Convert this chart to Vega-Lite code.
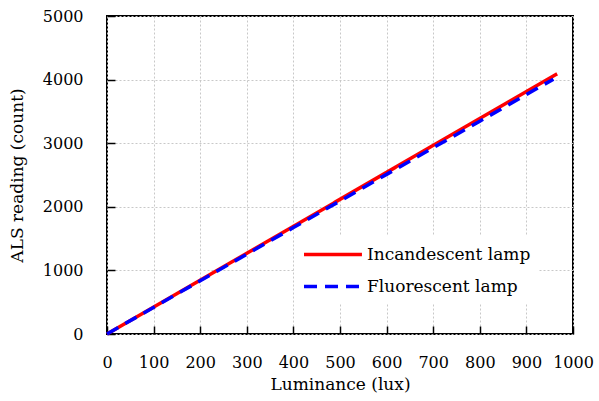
{
  "$schema": "https://vega.github.io/schema/vega-lite/v6.json",
  "width": 466,
  "height": 318,
  "autosize": "none",
  "padding": {"left": 107, "top": 16, "right": 26, "bottom": 67},
  "background": "white",
  "data": {
    "values": [
      {"lux": 0, "count": 0, "lamp": "Incandescent lamp"},
      {"lux": 200, "count": 847, "lamp": "Incandescent lamp"},
      {"lux": 400, "count": 1694, "lamp": "Incandescent lamp"},
      {"lux": 600, "count": 2541, "lamp": "Incandescent lamp"},
      {"lux": 800, "count": 3388, "lamp": "Incandescent lamp"},
      {"lux": 966, "count": 4090, "lamp": "Incandescent lamp"},
      {"lux": 0, "count": 0, "lamp": "Fluorescent lamp"},
      {"lux": 200, "count": 837, "lamp": "Fluorescent lamp"},
      {"lux": 400, "count": 1673, "lamp": "Fluorescent lamp"},
      {"lux": 600, "count": 2510, "lamp": "Fluorescent lamp"},
      {"lux": 800, "count": 3346, "lamp": "Fluorescent lamp"},
      {"lux": 958, "count": 4007, "lamp": "Fluorescent lamp"}
    ]
  },
  "mark": {"type": "line", "strokeWidth": 3.5, "strokeCap": "butt"},
  "encoding": {
    "x": {
      "field": "lux", "type": "quantitative",
      "scale": {"domain": [0, 1000], "nice": false},
      "axis": {"values": [0,100,200,300,400,500,600,700,800,900,1000], "format": "d", "labelOverlap": false, "labelFlush": false, "title": "Luminance (lux)", "titleFontSize": 17, "titlePadding": 6, "labelPadding": 28}
    },
    "y": {
      "field": "count", "type": "quantitative",
      "scale": {"domain": [0, 5000], "nice": false},
      "axis": {"values": [0,1000,2000,3000,4000,5000], "format": "d", "labelOverlap": false, "labelFlush": false, "title": "ALS reading (count)", "titleFontSize": 17, "titlePadding": 16, "labelPadding": 32}
    },
    "color": {
      "field": "lamp", "type": "nominal",
      "scale": {"domain": ["Incandescent lamp", "Fluorescent lamp"], "range": ["#ff0000", "#0000ff"]},
      "legend": {"title": null}
    },
    "strokeDash": {
      "field": "lamp", "type": "nominal",
      "scale": {"domain": ["Incandescent lamp", "Fluorescent lamp"], "range": [[1, 0], [13, 8]]},
      "legend": {"title": null}
    },
    "order": {"field": "lux", "type": "quantitative"}
  },
  "config": {
    "font": "DejaVu Serif",
    "view": {"stroke": "black", "strokeWidth": 2},
    "axis": {
      "domain": false,
      "grid": true,
      "gridColor": "#c8c8c8",
      "gridDash": [2, 2],
      "gridWidth": 1,
      "ticks": true,
      "tickColor": "black",
      "tickWidth": 1.5,
      "tickSize": -8,
      "labelFontSize": 16,
      "labelColor": "black",
      "titleColor": "black",
      "titleFontWeight": "normal"
    },
    "legend": {
      "orient": "none",
      "legendX": 187,
      "legendY": 219,
      "fillColor": "white",
      "padding": 8,
      "symbolType": "M-1,0H5.1",
      "symbolSize": 361,
      "symbolStrokeWidth": 3.5,
      "labelFontSize": 17,
      "labelLimit": 400,
      "labelColor": "black",
      "rowPadding": 12,
      "labelOffset": 42
    }
  }
}
